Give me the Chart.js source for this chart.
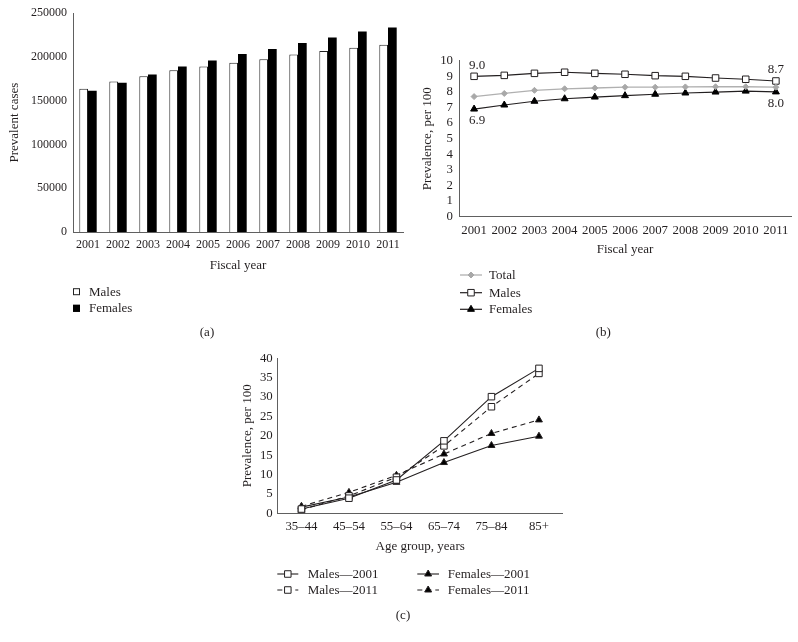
<!DOCTYPE html>
<html><head><meta charset="utf-8">
<script src="https://cdn.jsdelivr.net/npm/chart.js@4.4.1/dist/chart.umd.min.js"></script>
<style>
html,body{margin:0;padding:0;background:#fff;width:798px;height:642px;overflow:hidden;position:relative}
canvas{position:absolute}
</style></head><body>
<canvas id="ca" style="left:0px;top:0px" width="410" height="345"></canvas>
<canvas id="cb" style="left:412px;top:40px" width="386" height="305"></canvas>
<canvas id="cc" style="left:220px;top:340px" width="360" height="302"></canvas>
<script>
// ---- data ----
const years = ['2001','2002','2003','2004','2005','2006','2007','2008','2009','2010','2011'];
const casesMales   = [163800,172000,178100,184900,189100,193300,197400,202700,206900,210600,214000];
const casesFemales = [161500,170600,180000,189100,195900,203500,209200,216000,222300,229100,233700];
const prevTotal   = [7.7,7.9,8.1,8.2,8.25,8.3,8.3,8.32,8.33,8.33,8.3];
const prevMales   = [9.0,9.06,9.19,9.26,9.19,9.13,9.04,9.0,8.89,8.81,8.7];
const prevFemales = [6.9,7.16,7.4,7.56,7.67,7.76,7.85,7.93,7.99,8.05,8.0];
const ageGroups = ['35–44','45–54','55–64','65–74','75–84','85+'];
const males2001   = [1.1,3.9,8.6,18.7,30.1,37.4];
const males2011   = [0.9,4.5,9.3,17.4,27.5,36.1];
const females2001 = [1.6,4.2,8.0,13.1,17.5,19.9];
const females2011 = [1.8,5.4,9.8,15.3,20.6,24.1];

// ---- style ----
const FONT = '"Liberation Serif", "Times New Roman", serif';
const INK = '#231f20';
const AXIS = '#606060';

function marker(ctx, style, r, x, y, fill, stroke) {
  ctx.save();
  ctx.fillStyle = fill; ctx.strokeStyle = stroke; ctx.lineWidth = 1; ctx.setLineDash([]);
  ctx.beginPath();
  if (style === 'rect') { const s = Math.SQRT1_2 * r; ctx.rect(x - s, y - s, 2 * s, 2 * s); }
  else if (style === 'triangle') {
    ctx.moveTo(x, y - r); ctx.lineTo(x + r * 0.866, y + r * 0.5); ctx.lineTo(x - r * 0.866, y + r * 0.5); ctx.closePath();
  } else if (style === 'rectRot') {
    ctx.moveTo(x - r, y); ctx.lineTo(x, y - r); ctx.lineTo(x + r, y); ctx.lineTo(x, y + r); ctx.closePath();
  }
  ctx.fill(); ctx.stroke();
  ctx.restore();
}

const extras = {
  id: 'extras',
  afterDraw(chart, args, opts) {
    const ctx = chart.ctx;
    ctx.save();
    ctx.textBaseline = 'middle';
    (opts.legend || []).forEach(item => {
      const ds = chart.data.datasets[item.dataset];
      if (item.type === 'box') {
        ctx.fillStyle = ds.backgroundColor;
        ctx.fillRect(item.x, item.y - 3.5, 7, 7);
        ctx.strokeStyle = ds.borderColor; ctx.lineWidth = 1;
        ctx.strokeRect(item.x + 0.5, item.y - 3, 6, 6);
      } else {
        ctx.strokeStyle = ds.borderColor; ctx.lineWidth = ds.borderWidth;
        ctx.setLineDash(ds.borderDash || []);
        ctx.beginPath(); ctx.moveTo(item.x, item.y); ctx.lineTo(item.x + item.w, item.y); ctx.stroke();
        ctx.setLineDash([]);
        marker(ctx, ds.pointStyle, ds.pointRadius, item.x + item.w / 2, item.y, ds.pointBackgroundColor, ds.pointBorderColor);
      }
      ctx.fillStyle = INK; ctx.textAlign = 'left';
      ctx.font = '13px ' + FONT;
      ctx.fillText(ds.label, item.tx, item.y + 0.5);
    });
    (opts.labels || []).forEach(l => {
      const pt = chart.getDatasetMeta(l.dataset).data[l.index];
      const v = chart.data.datasets[l.dataset].data[l.index];
      ctx.fillStyle = INK; ctx.textAlign = 'center'; ctx.font = '13px ' + FONT;
      ctx.fillText(v.toFixed(1), pt.x + l.dx, pt.y + l.dy);
    });
    if (opts.caption) {
      ctx.fillStyle = INK; ctx.textAlign = 'center'; ctx.font = '13px ' + FONT;
      ctx.fillText(opts.caption.text, opts.caption.x, opts.caption.y);
    }
    ctx.restore();
  }
};

function xScale(title, w, size) {
  return {
    type: 'category', offset: true,
    grid: { display: false, drawTicks: false },
    border: { display: true, color: AXIS, width: 1 },
    ticks: { color: INK, font: { family: FONT, size: size }, padding: 6, maxRotation: 0, autoSkip: false },
    title: { display: true, text: title, color: INK, font: { family: FONT, size: 13 }, padding: { top: 0, bottom: 4 } },
    afterFit: s => { s.height = 45; }
  };
}
function yScale(title, max, step, w, tp, pad, size) {
  return {
    min: 0, max: max,
    grid: { display: false, drawTicks: false },
    border: { display: true, color: AXIS, width: 1 },
    ticks: { stepSize: step, autoSkip: false, color: INK, font: { family: FONT, size: size }, padding: pad, callback: v => String(v) },
    title: { display: true, text: title, color: INK, font: { family: FONT, size: 13 }, padding: { top: tp, bottom: 0 } },
    afterFit: s => { s.width = w; }
  };
}
const base = { responsive: false, animation: false, devicePixelRatio: 1, events: [] };

// ---- (a) ----
new Chart(document.getElementById('ca'), {
  type: 'bar',
  data: { labels: years, datasets: [
    { label: 'Males', data: casesMales, backgroundColor: '#ffffff', borderColor: '#222222', borderWidth: 1, borderSkipped: 'bottom', categoryPercentage: 0.58, barPercentage: 1 },
    { label: 'Females', data: casesFemales, backgroundColor: '#000000', borderColor: '#000000', borderWidth: 0, categoryPercentage: 0.58, barPercentage: 1 }
  ]},
  options: Object.assign({}, base, {
    layout: { padding: { top: 12, right: 7, bottom: 68, left: 0 } },
    scales: { x: xScale('Fiscal year', 0, 12), y: yScale('Prevalent cases', 250000, 50000, 73, 7, 6, 12) },
    plugins: { legend: { display: false }, tooltip: { enabled: false },
      extras: {
        legend: [ { dataset: 0, type: 'box', x: 73, y: 291.7, tx: 89 }, { dataset: 1, type: 'box', x: 73, y: 308.3, tx: 89 } ],
        caption: { text: '(a)', x: 207, y: 332.5 }
      } }
  }),
  plugins: [extras]
});

// ---- (b) ----
new Chart(document.getElementById('cb'), {
  type: 'line',
  data: { labels: years, datasets: [
    { label: 'Total', data: prevTotal, borderColor: '#b0b0b0', borderWidth: 1.3, pointStyle: 'rectRot', pointRadius: 3, pointBackgroundColor: '#a8a8a8', pointBorderColor: '#a8a8a8', pointBorderWidth: 1, tension: 0 },
    { label: 'Males', data: prevMales, borderColor: '#231f20', borderWidth: 1.2, pointStyle: 'rect', pointRadius: 4.6, pointBackgroundColor: '#ffffff', pointBorderColor: '#231f20', pointBorderWidth: 1, tension: 0 },
    { label: 'Females', data: prevFemales, borderColor: '#231f20', borderWidth: 1.2, pointStyle: 'triangle', pointRadius: 4, pointBackgroundColor: '#000000', pointBorderColor: '#000000', pointBorderWidth: 1, tension: 0 }
  ]},
  options: Object.assign({}, base, {
    layout: { padding: { top: 20.7, right: 7, bottom: 83.3, left: 0 } },
    scales: { x: xScale('Fiscal year', 0, 12.8), y: yScale('Prevalence, per 100', 10, 1, 47, 7.7, 6, 12.8) },
    plugins: { legend: { display: false }, tooltip: { enabled: false },
      extras: {
        legend: [
          { dataset: 0, type: 'line', x: 48, w: 22, y: 235, tx: 77 },
          { dataset: 1, type: 'line', x: 48, w: 22, y: 252.7, tx: 77 },
          { dataset: 2, type: 'line', x: 48, w: 22, y: 269.3, tx: 77 }
        ],
        labels: [
          { dataset: 1, index: 0, dx: 3, dy: -11 },
          { dataset: 1, index: 10, dx: 0, dy: -11.5 },
          { dataset: 2, index: 0, dx: 3, dy: 12 },
          { dataset: 2, index: 10, dx: 0, dy: 11.5 }
        ],
        caption: { text: '(b)', x: 191.3, y: 293 }
      } }
  }),
  plugins: [extras]
});

// ---- (c) ----
function ageSet(label, data, style, dash) {
  const fill = style === 'rect' ? '#ffffff' : '#000000';
  return { label: label, data: data, borderColor: '#231f20', borderWidth: 1.1, borderDash: dash, pointStyle: style,
    pointRadius: style === 'rect' ? 4.6 : 4, pointBackgroundColor: fill, pointBorderColor: '#231f20', pointBorderWidth: 1, tension: 0 };
}
new Chart(document.getElementById('cc'), {
  type: 'line',
  data: { labels: ageGroups, datasets: [
    ageSet('Males—2001', males2001, 'rect', []),
    ageSet('Males—2011', males2011, 'rect', [5, 4]),
    ageSet('Females—2001', females2001, 'triangle', []),
    ageSet('Females—2011', females2011, 'triangle', [5, 4])
  ]},
  options: Object.assign({}, base, {
    layout: { padding: { top: 18.3, right: 17.3, bottom: 83.7, left: 0 } },
    scales: { x: xScale('Age group, years', 0, 12.8), y: yScale('Prevalence, per 100', 40, 5, 57.7, 19.7, 5, 12.8) },
    plugins: { legend: { display: false }, tooltip: { enabled: false },
      extras: {
        legend: [
          { dataset: 0, type: 'line', x: 57.3, w: 21, y: 234, tx: 87.7 },
          { dataset: 1, type: 'line', x: 57.3, w: 21, y: 250, tx: 87.7 },
          { dataset: 2, type: 'line', x: 197.3, w: 21.7, y: 234, tx: 227.7 },
          { dataset: 3, type: 'line', x: 197.3, w: 21.7, y: 250, tx: 227.7 }
        ],
        caption: { text: '(c)', x: 183, y: 275.5 }
      } }
  }),
  plugins: [extras]
});
</script>
</body></html>
